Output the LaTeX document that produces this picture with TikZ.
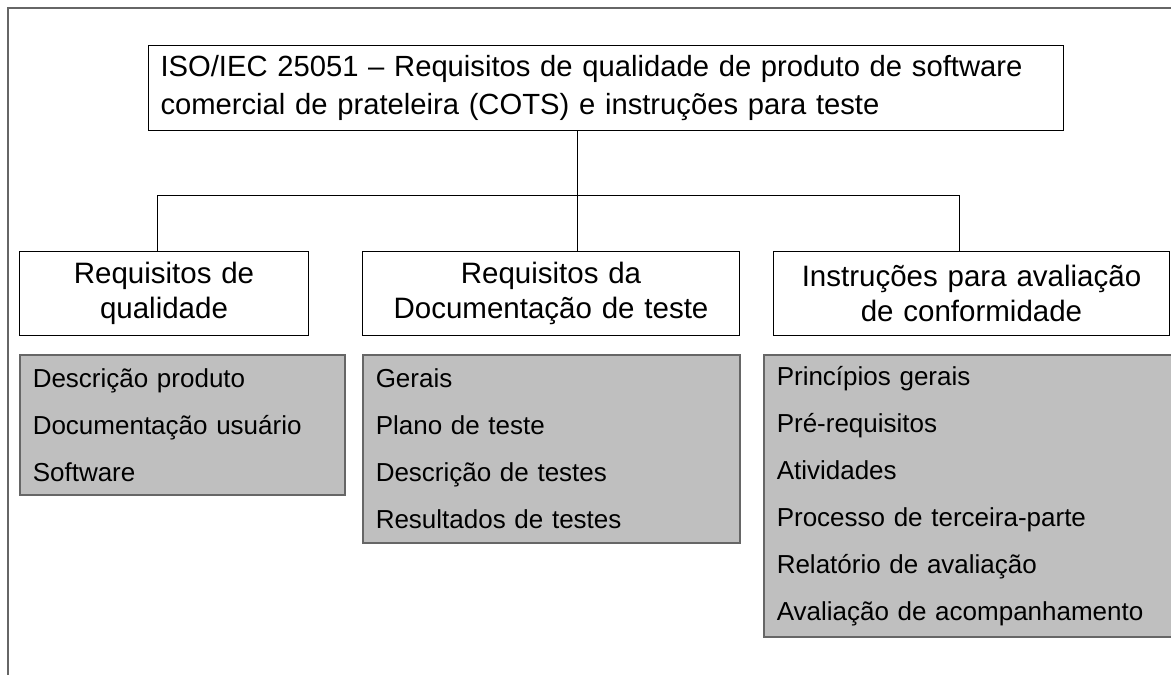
\documentclass[tikz,border=0pt]{standalone}
\usepackage{fontspec}
\setmainfont{Liberation Sans}
\usetikzlibrary{positioning}

\tikzset{
  titlebox/.style={rectangle,draw=black,line width=1pt,anchor=north west,align=left,inner xsep=12pt,inner ysep=0pt,font=\fontsize{29.2}{38}\selectfont},
  headbox/.style={rectangle,draw=black,line width=1pt,anchor=north west,align=center,inner sep=0pt,minimum height=84pt,font=\fontsize{29.5}{35}\selectfont},
  listbox/.style={rectangle,draw=black!60,fill=black!25,line width=1.5pt,anchor=north west,align=left,inner xsep=13pt,inner ysep=0pt,font=\fontsize{26}{47}\selectfont},
  link/.style={draw=black,line width=1pt},
}

\begin{document}
\begin{tikzpicture}[x=1pt,y=-1pt]
\useasboundingbox (0,0) rectangle (1171,675);
% moldura
\draw[black!60,line width=2pt] (8,675) -- (8,8) -- (1171,8);

\node at (148,45)[titlebox,text width=891pt,minimum height=85pt](iso){ISO/IEC 25051 -- Requisitos de qualidade de produto de software\\comercial de prateleira (COTS) e instruções para teste};

\node at (19,251)[headbox,text width=289pt](reqq){Requisitos de\\qualidade};
\node at (362,251)[headbox,text width=377pt](reqdoc){Requisitos da\\Documentação de teste};
\node at (773,251)[headbox,text width=396pt](instr){Instruções para avaliação\\de conformidade};

\node at (19,354)[listbox,text width=299pt,minimum height=140pt](lq){Descrição produto\\Documentação usuário\\Software};
\node at (362,354)[listbox,text width=351pt,minimum height=188pt](ldoc){Gerais\\Plano de teste\\Descrição de testes\\Resultados de testes};
\node at (763,354)[listbox,text width=383pt,minimum height=282pt](lavl){Princípios gerais\\Pré-requisitos\\Atividades\\Processo de terceira-parte\\Relatório de avaliação\\Avaliação de acompanhamento};

% ligacoes
\coordinate (jl) at (157,195);
\coordinate (jm) at (577,195);
\coordinate (jr) at (959,195);
\draw[link] (jm |- iso.south) -- (jm |- reqdoc.north);
\draw[link] (jl) -- (jr);
\draw[link] (jl) -- (jl |- reqq.north);
\draw[link] (jr) -- (jr |- instr.north);
\end{tikzpicture}
\end{document}
